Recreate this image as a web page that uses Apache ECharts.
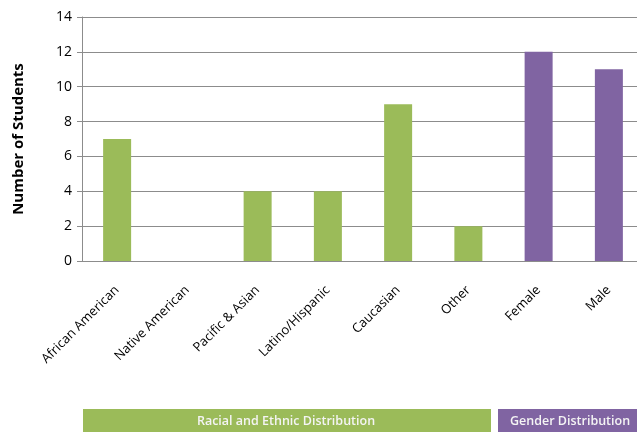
<!DOCTYPE html>
<html><head><meta charset="utf-8">
<script src="https://cdn.jsdelivr.net/npm/echarts@6/dist/echarts.min.js"></script>
<style>html,body{margin:0;padding:0;background:#fff}#c{width:637px;height:432px}</style>
</head><body><div id="c"></div>
<script>
const categories = ['African American','Native American','Pacific & Asian','Latino/Hispanic','Caucasian','Other','Female','Male'];
const values = [7, 0, 4, 4, 9, 2, 12, 11];
const groupOf = ['race','race','race','race','race','race','gender','gender'];
const yTicks = [0, 2, 4, 6, 8, 10, 12, 14];
const groupLabels = ['Racial and Ethnic Distribution', 'Gender Distribution'];
const colors = {race: '#9BBB59', gender: '#8064A2'};

const chart = echarts.init(document.getElementById('c'));
const font = '"Open Sans", "Liberation Sans", sans-serif';
chart.setOption({
  animation: false,
  grid: {left: 82, width: 562, top: 17, bottom: 171, containLabel: false, outerBoundsMode: 'none'},
  xAxis: {
    type: 'category', data: categories,
    axisLine: {lineStyle: {color: '#8c8c8c'}},
    axisTick: {show: false},
    axisLabel: {rotate: 45, interval: 0, margin: 27, color: '#000', fontSize: 13, fontFamily: font}
  },
  yAxis: {
    type: 'value', min: yTicks[0], max: yTicks[yTicks.length-1], interval: 2,
    name: 'Number of Students', nameLocation: 'middle', nameGap: 56, nameRotate: 90,
    nameTextStyle: {fontWeight: 'bold', fontSize: 15, color: '#000', fontFamily: font},
    axisLine: {show: true, lineStyle: {color: '#8c8c8c'}},
    axisTick: {show: true, length: 5, lineStyle: {color: '#8c8c8c'}},
    splitLine: {lineStyle: {color: '#8c8c8c', width: 1}},
    axisLabel: {color: '#000', fontSize: 14, fontFamily: font, margin: 10}
  },
  series: [{
    type: 'bar', barWidth: 28,
    data: values.map((v, i) => ({value: v, itemStyle: {color: colors[groupOf[i]]}}))
  }],
  graphic: [
    {type: 'rect', shape: {x: 83, y: 409, width: 408, height: 23}, style: {fill: colors.race}},
    {type: 'text', x: 286, y: 421, style: {text: groupLabels[0], fill: '#f4f4f4', font: '600 12.5px ' + font, textAlign: 'center', textVerticalAlign: 'middle'}},
    {type: 'rect', shape: {x: 498, y: 409, width: 150, height: 23}, style: {fill: colors.gender}},
    {type: 'text', x: 510, y: 421, style: {text: groupLabels[1], fill: '#f4f4f4', font: '600 12.5px ' + font, textAlign: 'left', textVerticalAlign: 'middle'}}
  ]
});
</script></body></html>
